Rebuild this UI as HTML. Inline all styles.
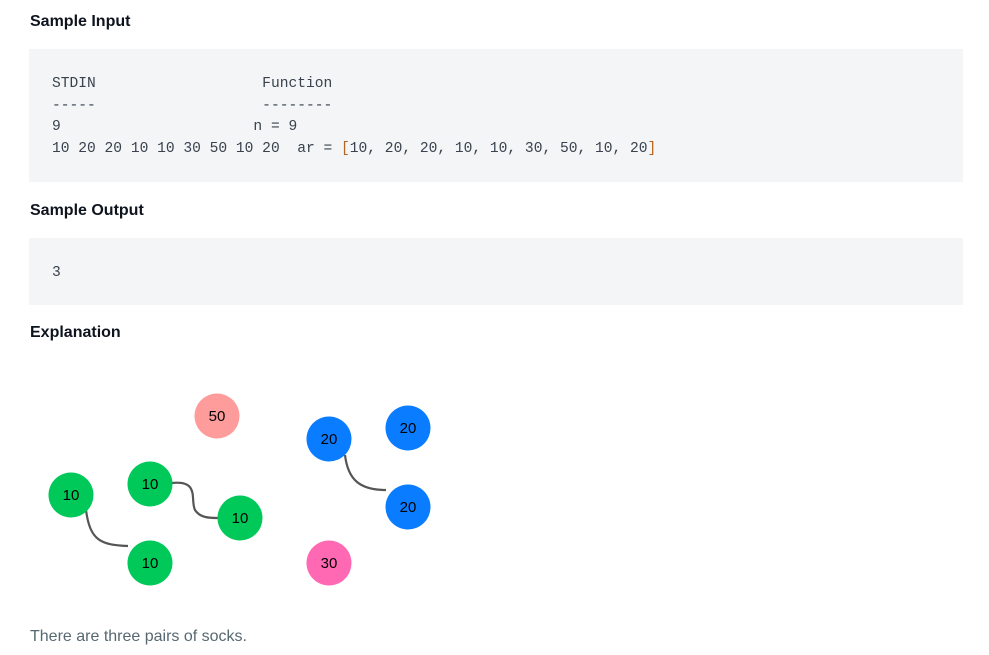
<!DOCTYPE html>
<html><head><meta charset="utf-8"><style>
body{margin:0;width:989px;height:655px;background:#fff;position:relative;font-family:"Liberation Sans",sans-serif;overflow:hidden}
h3{position:absolute;left:30px;margin:0;font-size:16px;font-weight:bold;color:#0e141e}
.code{position:absolute;left:29px;width:934px;background:#f3f5f6;}
pre{margin:0;position:absolute;left:23px;font-family:"Liberation Mono",monospace;font-size:14.6px;line-height:21.7px;color:#39424e}
p{position:absolute;left:30px;top:628px;margin:0;font-size:16px;color:#576871}
</style></head><body>
<h3 style="top:13px">Sample Input</h3>
<div class="code" style="top:49px;height:133px">
<pre style="top:25px">STDIN                   Function
-----                   --------
9                      n = 9
10 20 20 10 10 30 50 10 20  ar = <span style="color:#b5651d">[</span>10, 20, 20, 10, 10, 30, 50, 10, 20<span style="color:#b5651d">]</span></pre></div>
<h3 style="top:202px">Sample Output</h3>
<div class="code" style="top:238px;height:67px">
<pre style="top:25px">3</pre></div>
<h3 style="top:324px">Explanation</h3>
<svg style="position:absolute;left:0;top:380px" width="460" height="220" font-family="Liberation Sans, sans-serif" font-size="15">
<g fill="none" stroke="#555" stroke-width="2.2">
<path d="M86 510 C90 540 100 545 128 546" transform="translate(0,-380)"/>
<path d="M172 483 C200 480 190 500 195 510 C200 518 210 518 218 518" transform="translate(0,-380)"/>
<path d="M345 455 C348 480 360 490 386 490" transform="translate(0,-380)"/>
</g>
<g transform="translate(0,-380)" text-anchor="middle">
<circle cx="217" cy="416" r="22.5" fill="#fe9c9c"/><text x="217" y="421">50</text>
<circle cx="329" cy="439" r="22.5" fill="#0a7cff"/><text x="329" y="444">20</text>
<circle cx="408" cy="428" r="22.5" fill="#0a7cff"/><text x="408" y="433">20</text>
<circle cx="71" cy="495" r="22.5" fill="#00c95a"/><text x="71" y="500">10</text>
<circle cx="150" cy="484" r="22.5" fill="#00c95a"/><text x="150" y="489">10</text>
<circle cx="240" cy="518" r="22.5" fill="#00c95a"/><text x="240" y="523">10</text>
<circle cx="408" cy="507" r="22.5" fill="#0a7cff"/><text x="408" y="512">20</text>
<circle cx="150" cy="563" r="22.5" fill="#00c95a"/><text x="150" y="568">10</text>
<circle cx="329" cy="563" r="22.5" fill="#ff69b4"/><text x="329" y="568">30</text>
</g></svg>
<p>There are three pairs of socks.</p>
</body></html>
